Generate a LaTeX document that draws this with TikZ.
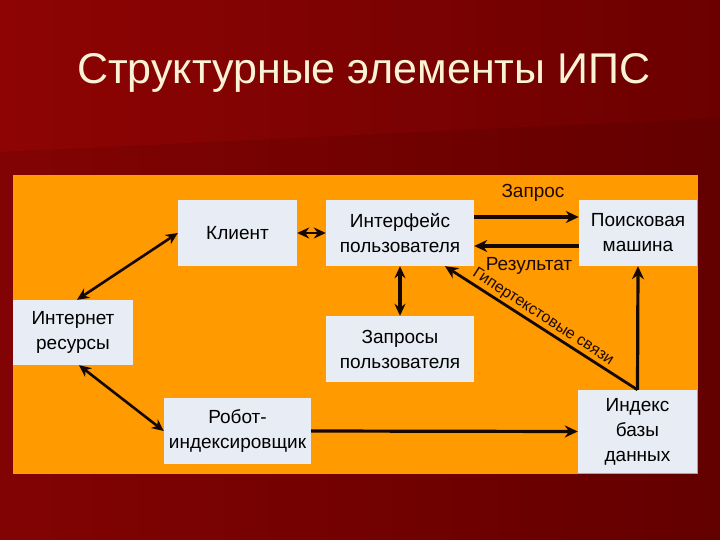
\documentclass[tikz,border=0pt]{standalone}
\usepackage{fontspec}
\setmainfont{Liberation Sans}
\usetikzlibrary{arrows.meta}
\definecolor{bgA}{HTML}{8E0404}
\definecolor{bgB}{HTML}{6C0000}
\definecolor{orangebg}{HTML}{FF9A00}
\definecolor{boxfill}{HTML}{E8ECF4}
\definecolor{titlecol}{HTML}{FBF3D6}
\definecolor{labcol}{HTML}{1E0A00}
\definecolor{arrcol}{HTML}{140800}
\begin{document}
\begin{tikzpicture}[x=1pt,y=-1pt,
  box/.style={fill=boxfill, draw=none, inner sep=0pt, align=center,
    font=\fontsize{19}{25}\selectfont, text=black},
  arr/.style={draw=arrcol, line width=3.2pt, -{Stealth[length=13pt,width=12pt]}},
  darr/.style={draw=arrcol, line width=2.6pt, {Stealth[length=12pt,width=11pt]}-{Stealth[length=12pt,width=11pt]}},
  lab/.style={text=labcol, font=\fontsize{19}{23}\selectfont, inner sep=0pt}]
\useasboundingbox (0,0) rectangle (720,540);
\shade[left color=bgA, right color=bgB] (0,0) rectangle (720,540);
\fill[black, opacity=0.08] (0,152) -- (720,118) -- (720,540) -- (0,540) -- cycle;
\node[text=titlecol, font=\fontsize{43}{50}\selectfont, anchor=base west, inner sep=0pt] (title) at (77,84) {Структурные элементы ИПС};
\fill[orangebg] (13,175) rectangle (698,474);
\node[box, minimum width=119pt, minimum height=66pt] (klient) at (237.5,233) {Клиент};
\node[box, minimum width=148pt, minimum height=66pt] (iface) at (400,233) {Интерфейс\\пользователя};
\node[box, minimum width=118pt, minimum height=66pt] (poisk) at (638,233) {Поисковая\\машина};
\node[box, minimum width=120pt, minimum height=65pt] (inet) at (73,332.5) {Интернет\\ресурсы};
\node[box, minimum width=148pt, minimum height=66pt] (zapr) at (400,349) {Запросы\\пользователя};
\node[box, minimum width=147pt, minimum height=66pt] (robot) at (237.5,431) {Робот-\\индексировщик};
\node[box, minimum width=119pt, minimum height=83pt] (index) at (637.5,431.5) {Индекс\\базы\\данных};
\draw[darr] (klient.east) -- (iface.west);
\draw[darr] (klient.west) -- ([xshift=4pt]inet.north);
\draw[darr] ([xshift=6pt]inet.south) -- (robot.west);
\draw[darr, line width=3.2pt] (iface.south) -- (zapr.north);
\draw[arr] ([yshift=16pt]iface.east) -- ([yshift=16pt]poisk.west);
\draw[arr] ([yshift=-13pt]poisk.west) -- ([yshift=-13pt]iface.east);
\draw[arr] (index.north) -- (poisk.south);
\coordinate (hyp) at ([xshift=45pt]iface.south);
\draw[arr, line width=2.8pt] (index.north) -- (hyp);
\draw[arr] (robot.east) -- (index.west);
\node[lab] (lzapros) at (533,193) {Запрос};
\node[lab] (lres) at (529,266) {Результат};
\node[text=labcol, font=\fontsize{16}{18}\selectfont, inner sep=0pt, rotate=-33] (lhyp) at (543,317) {Гипертекстовые связи};
\end{tikzpicture}
\end{document}
